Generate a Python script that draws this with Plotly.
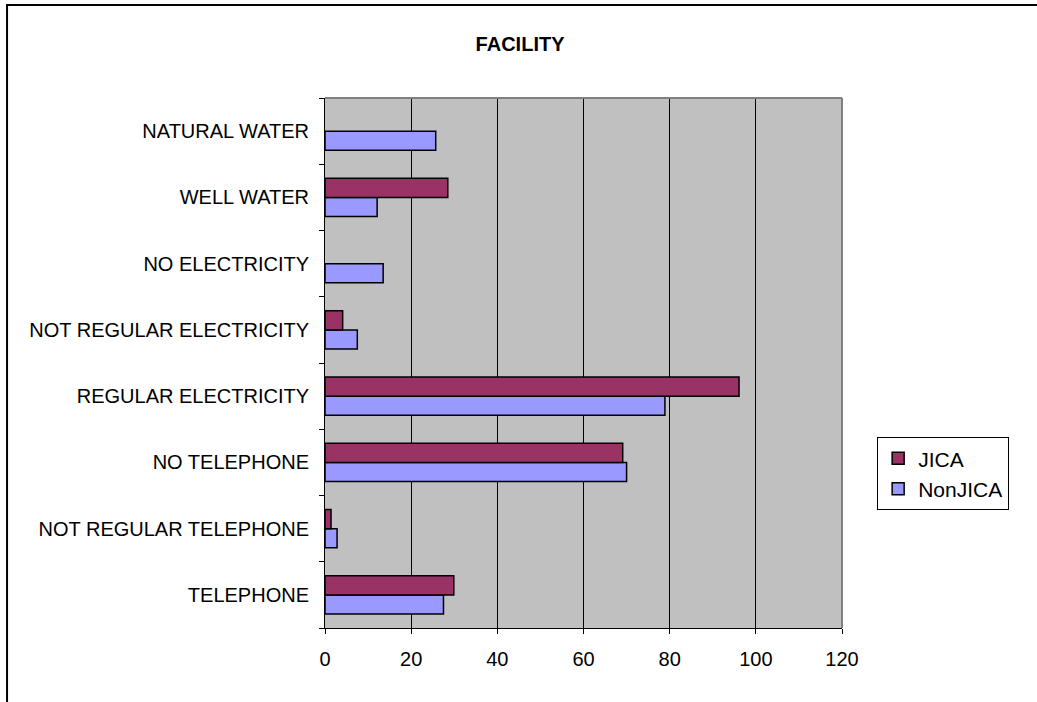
import plotly.graph_objects as go

categories = ["TELEPHONE", "NOT REGULAR TELEPHONE", "NO TELEPHONE", "REGULAR ELECTRICITY",
              "NOT REGULAR ELECTRICITY", "NO ELECTRICITY", "WELL WATER", "NATURAL WATER"]
jica = [29.9, 1.4, 69.1, 96.1, 4.1, None, 28.5, None]
nonjica = [27.5, 2.8, 70.0, 78.9, 7.5, 13.5, 12.1, 25.7]
x_ticks = [0, 20, 40, 60, 80, 100, 120]

FONT = "Arial, Liberation Sans, sans-serif"

fig = go.Figure()
fig.add_trace(go.Bar(y=categories, x=nonjica, name="NonJICA", orientation="h",
                     marker=dict(color="#9999FF", line=dict(color="black", width=1.5))))
fig.add_trace(go.Bar(y=categories, x=jica, name="JICA", orientation="h",
                     marker=dict(color="#993366", line=dict(color="black", width=1.5))))

fig.update_layout(
    width=1037, height=702,
    margin=dict(l=325, r=195, t=98, b=74),
    paper_bgcolor="white", plot_bgcolor="#C0C0C0",
    barmode="group", bargap=0.42, bargroupgap=0,
    font=dict(family=FONT, size=20, color="black"),
    title=dict(text="<b>FACILITY</b>", x=0.5015, xanchor="center", y=0.937, yanchor="middle",
               font=dict(family=FONT, size=20, color="black")),
    legend=dict(x=1.068, xanchor="left", y=0.36, yanchor="top", traceorder="reversed",
                bordercolor="black", borderwidth=1, bgcolor="white", itemwidth=30,
                tracegroupgap=4,
                font=dict(family=FONT, size=21, color="black")),
    shapes=[
        dict(type="rect", xref="paper", yref="paper", x0=-0.615, x1=2.0, y0=-1.0, y1=1.1755,
             line=dict(color="black", width=2), fillcolor="rgba(0,0,0,0)", layer="below"),
        dict(type="line", xref="paper", yref="paper", x0=0, x1=1, y0=1, y1=1,
             line=dict(color="#808080", width=2)),
        dict(type="line", xref="paper", yref="paper", x0=1, x1=1, y0=0, y1=1,
             line=dict(color="#808080", width=2)),
    ],
)
fig.update_xaxes(range=[0, 120], tickvals=x_ticks, ticktext=[str(v) for v in x_ticks],
                 showgrid=True, gridcolor="black", gridwidth=1, zeroline=False,
                 showline=True, linecolor="black", linewidth=1,
                 ticks="outside", ticklen=5, tickcolor="black", ticklabelstandoff=8,
                 tickfont=dict(size=20), fixedrange=True)
fig.update_yaxes(type="category", categoryorder="array", categoryarray=categories,
                 tickson="boundaries", ticks="outside", ticklen=5, tickcolor="black",
                 showline=True, linecolor="black", linewidth=1, showgrid=False,
                 ticklabelstandoff=11, tickfont=dict(size=20), fixedrange=True)

fig.write_html("out.html", config={"displayModeBar": False},
               post_script="document.body.style.margin='0';")
